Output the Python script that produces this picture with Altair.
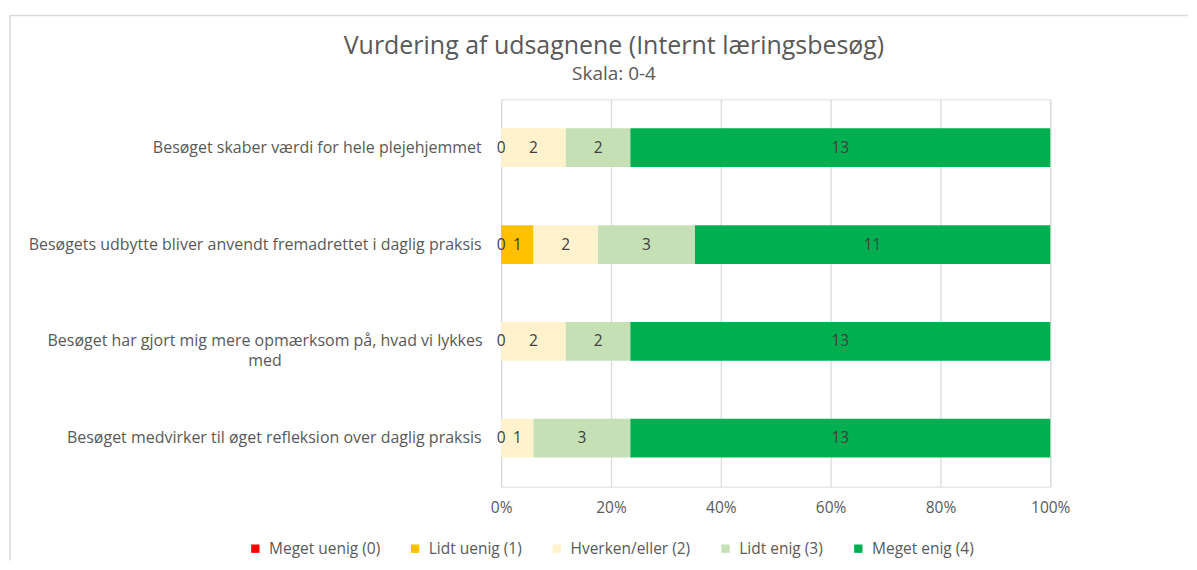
import altair as alt
import pandas as pd

statements = [
    "Besøget skaber værdi for hele plejehjemmet",
    "Besøgets udbytte bliver anvendt fremadrettet i daglig praksis",
    "Besøget har gjort mig mere opmærksom på, hvad vi lykkes med",
    "Besøget medvirker til øget refleksion over daglig praksis",
]
levels = ["Meget uenig (0)", "Lidt uenig (1)", "Hverken/eller (2)", "Lidt enig (3)", "Meget enig (4)"]
colors = ["#FF0000", "#FFC000", "#FFF2CC", "#C5E0B4", "#00B050"]

meget_uenig = [0, 0, 0, 0]
lidt_uenig = [None, 1, None, None]
hverken_eller = [2, 2, 2, 1]
lidt_enig = [2, 3, 2, 3]
meget_enig = [13, 11, 13, 13]

x_ticks = [0, 0.2, 0.4, 0.6, 0.8, 1.0]

series = [meget_uenig, lidt_uenig, hverken_eller, lidt_enig, meget_enig]
rows = []
for i, s in enumerate(statements):
    for j, (lvl, vals) in enumerate(zip(levels, series)):
        v = vals[i]
        if v is None:
            continue
        rows.append({"statement": s, "level": lvl, "order": j, "value": v})
df = pd.DataFrame(rows)

FONT = "Open Sans"
GRAY = "#595959"
long_s = statements[2]
test = f"datum.value == '{long_s}'"

base = alt.Chart(df).transform_stack(
    stack="value", groupby=["statement"], as_=["v0", "v1"], offset="normalize",
    sort=[alt.SortField("order", order="ascending")],
).transform_calculate(mid="(datum.v0 + datum.v1) / 2")

y_axis = alt.Axis(
    domain=False, ticks=False, tickSize=0, grid=False, labelLimit=700,
    labelFont=FONT, labelFontSize=16, labelColor=GRAY, labelLineHeight=20,
    labelAlign={"condition": {"test": test, "value": "center"}, "value": "right"},
    labelPadding={"condition": {"test": test, "value": 237}, "value": 20},
    labelExpr=f"{test} ? ['Besøget har gjort mig mere opmærksom på, hvad vi lykkes', 'med'] : datum.value",
)
y_enc = alt.Y("statement:N", sort=statements, title=None,
              scale=alt.Scale(paddingInner=0.6, paddingOuter=0.3), axis=y_axis)

bars = base.mark_bar().encode(
    x=alt.X("v0:Q", title=None, scale=alt.Scale(domain=[0, 1], nice=False),
            axis=alt.Axis(format=".0%", values=x_ticks, domain=False, ticks=False, tickSize=0,
                          grid=True, gridColor="#D9D9D9", gridWidth=1.2, labelFlush=False,
                          labelFont=FONT, labelFontSize=15.5, labelColor=GRAY, labelPadding=14)),
    x2="v1:Q",
    y=y_enc,
    color=alt.Color("level:N", scale=alt.Scale(domain=levels, range=colors),
                    legend=alt.Legend(orient="none", legendX=-254, legendY=442, direction="horizontal",
                                      title=None, symbolType="square", symbolSize=70, symbolStrokeWidth=0,
                                      labelFont=FONT, labelFontSize=15.5, labelColor=GRAY,
                                      columnPadding=27, labelOffset=6)),
)

labels = base.mark_text(font=FONT, fontSize=15.5, color="#404040").encode(
    x=alt.X("mid:Q"),
    y=alt.Y("statement:N", sort=statements),
    text=alt.Text("value:Q"),
)

frame_df = pd.DataFrame({"k": [0]})
top_rule = alt.Chart(frame_df).mark_rule(color="#D9D9D9", strokeWidth=1.5).encode(
    x=alt.value(-492), x2=alt.value(688), y=alt.value(-84))
left_rule = alt.Chart(frame_df).mark_rule(color="#D9D9D9", strokeWidth=1.5).encode(
    x=alt.value(-492), y=alt.value(-84), y2=alt.value(462))

chart = alt.layer(top_rule, left_rule, bars, labels).properties(
    width=550, height=388,
    padding={"left": 1, "top": 6, "right": 0, "bottom": 0},
    title=alt.TitleParams(
        text="Vurdering af udsagnene (Internt læringsbesøg)", subtitle="Skala: 0-4",
        anchor="middle", frame="group", dx=-162, offset=-69,
        font=FONT, fontSize=25, fontWeight="normal", color=GRAY,
        subtitleFont=FONT, subtitleFontSize=19, subtitleColor=GRAY, subtitlePadding=6,
    ),
).configure_view(strokeWidth=0).configure(background="white")

chart.save("out.html", embed_options={"renderer": "svg", "actions": False})
